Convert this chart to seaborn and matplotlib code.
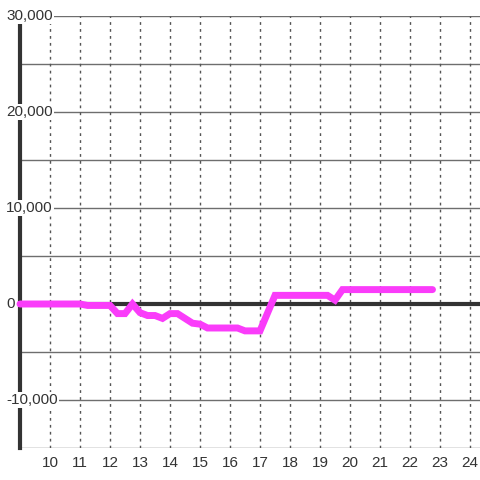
import numpy as np
import pandas as pd
import matplotlib
matplotlib.use("Agg")
import matplotlib.pyplot as plt
import seaborn as sns

# ── Data ─────────────────────────────────────────────────────────────────────
hours = [9.0, 11.0, 11.25, 12.0, 12.25, 12.5, 12.75, 13.0, 13.25, 13.5, 13.75,
         14.0, 14.25, 14.5, 14.75, 15.0, 15.25, 16.25, 16.5, 17.0, 17.5,
         19.25, 19.5, 19.75, 22.75]
values = [0, 0, -150, -150, -1000, -1000, 0, -900, -1200, -1200, -1500,
          -1000, -1000, -1500, -2000, -2100, -2500, -2500, -2800, -2800, 900,
          900, 400, 1500, 1500]

x_ticks = list(range(10, 25))
y_grid = list(range(-15000, 30001, 5000))
y_labels = [30000, 20000, 10000, 0, -10000]

df = pd.DataFrame({"hour": hours, "value": values})

# ── Style ────────────────────────────────────────────────────────────────────
sns.set_style("white")
plt.rcParams['font.family'] = ['Liberation Sans', 'DejaVu Sans']

fig = plt.figure(figsize=(4.8, 4.8), dpi=100)
ax = fig.add_axes([20 / 480, 32 / 480, 460 / 480, 432 / 480])
ax.set_xlim(9.0, 9.0 + 460 / 30)
ax.set_ylim(-15000, 30000)

# grid
for yv in y_grid:
    ax.axhline(yv, color='#6e6e6e', lw=1, zorder=1)
for xv in x_ticks:
    ax.axvline(xv, color='#555555', lw=1, ls=(0, (2, 3)), zorder=1)
ax.axhline(0, color='#333333', lw=3, zorder=2)

sns.lineplot(data=df, x="hour", y="value", ax=ax, color='#fa3cfa', lw=5,
             zorder=6, solid_joinstyle='miter', clip_on=False)

# spines
for side in ['top', 'right', 'bottom']:
    ax.spines[side].set_visible(False)
ax.spines['left'].set_color('#333333')
ax.spines['left'].set_linewidth(3)
ax.spines['left'].set_zorder(4)

# y labels with white box overlapping the axis
ax.set_yticks([])
trans = matplotlib.transforms.blended_transform_factory(ax.transAxes, ax.transData)
for yv in y_labels:
    ax.text(-14 / 460, yv, f"{yv:,}", transform=trans, ha='left', va='center',
            fontsize=11, color='#333333', zorder=5, clip_on=False,
            bbox=dict(facecolor='white', edgecolor='none', pad=1.0))

ax.set_xticks(x_ticks)
ax.set_xticklabels([str(t) for t in x_ticks], fontsize=11, color='#333333')
ax.tick_params(axis='x', length=0, pad=6)
ax.set_xlabel("")
ax.set_ylabel("")

fig.savefig("out.png", dpi=100)
